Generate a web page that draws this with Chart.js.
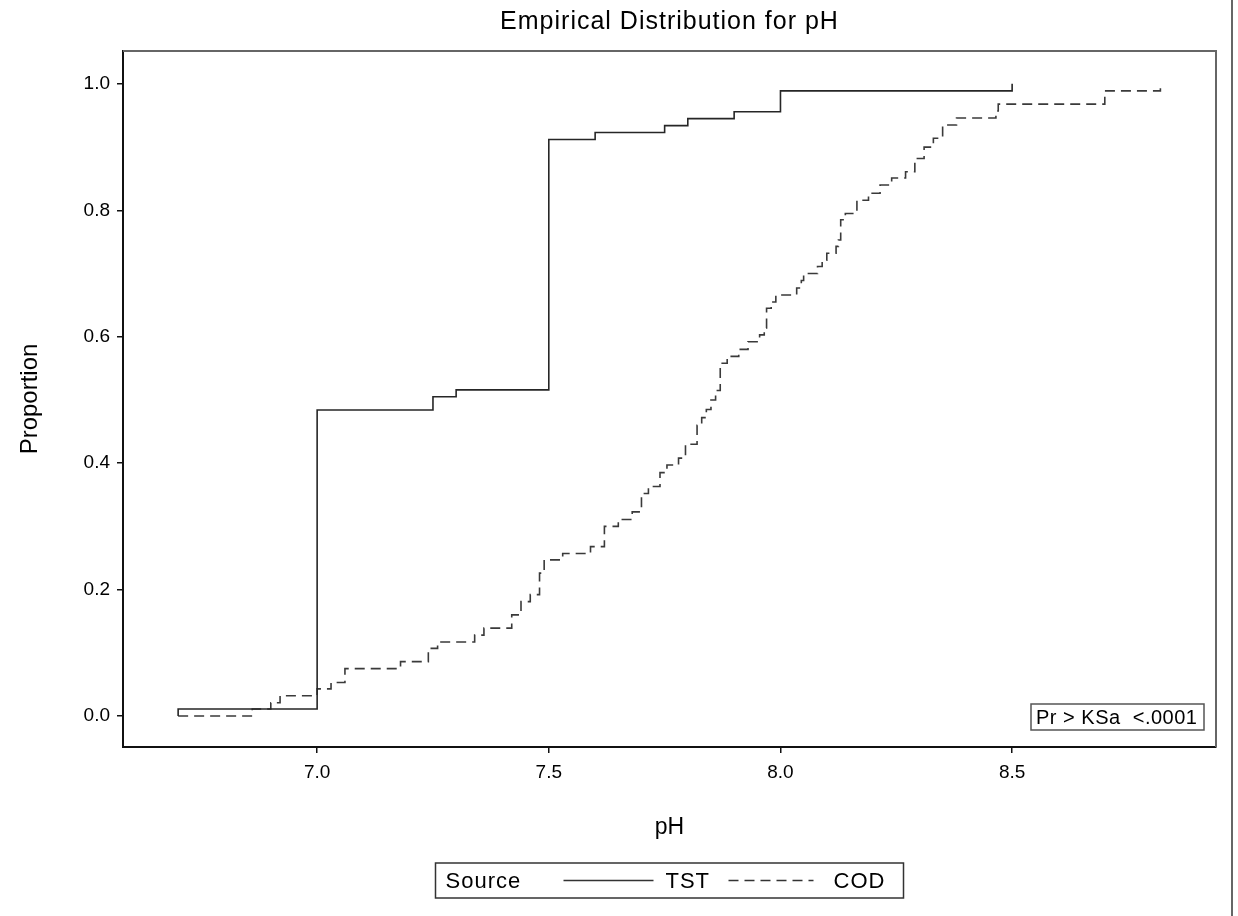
<!DOCTYPE html>
<html>
<head>
<meta charset="utf-8">
<title>Empirical Distribution for pH</title>
<script src="https://cdn.jsdelivr.net/npm/chart.js@4.4.1/dist/chart.umd.min.js"></script>
<style>
  html, body { margin: 0; padding: 0; background: #fff; }
  #wrap { width: 1238px; height: 916px; position: relative; }
</style>
</head>
<body>
<div id="wrap"><canvas id="ecdf" width="1238" height="916"></canvas></div>
<script>
// step points of the two empirical distribution functions (pH, cumulative proportion)
const tstPH   = [6.70, 6.70, 7.00, 7.25, 7.30, 7.50, 7.60, 7.75, 7.80, 7.90, 8.00, 8.50];
const tstProp = [0.000, 0.011, 0.484, 0.505, 0.516, 0.912, 0.923, 0.934, 0.945, 0.956, 0.989, 1.000];

const codPH = [6.70, 6.86, 6.90, 6.92, 7.00, 7.03, 7.06, 7.18, 7.24, 7.26, 7.34, 7.36,
  7.42, 7.44, 7.46, 7.48, 7.49, 7.53, 7.59, 7.62, 7.65, 7.68, 7.70, 7.715, 7.74, 7.755,
  7.78, 7.795, 7.82, 7.83, 7.84, 7.85, 7.86, 7.87, 7.885, 7.91, 7.93, 7.955, 7.965, 7.97,
  7.98, 7.99, 8.035, 8.045, 8.05, 8.08, 8.09, 8.10, 8.12, 8.125, 8.13, 8.14, 8.165, 8.19,
  8.215, 8.24, 8.27, 8.29, 8.31, 8.33, 8.35, 8.38, 8.465, 8.47, 8.70, 8.82];
const codProp = [0.000, 0.011, 0.021, 0.032, 0.043, 0.053, 0.075, 0.086, 0.107, 0.117, 0.128, 0.139,
  0.160, 0.181, 0.192, 0.226, 0.247, 0.257, 0.268, 0.300, 0.311, 0.323, 0.352, 0.363, 0.385, 0.397,
  0.408, 0.430, 0.460, 0.472, 0.485, 0.500, 0.515, 0.558, 0.569, 0.580, 0.592, 0.603, 0.614, 0.645,
  0.655, 0.666, 0.677, 0.689, 0.700, 0.711, 0.721, 0.732, 0.743, 0.753, 0.785, 0.795, 0.816, 0.827,
  0.840, 0.851, 0.861, 0.882, 0.900, 0.914, 0.935, 0.946, 0.957, 0.968, 0.989, 1.000];

const xTicks = [7.0, 7.5, 8.0, 8.5];
const yTicks = [0.0, 0.2, 0.4, 0.6, 0.8, 1.0];
const seriesNames = ['TST', 'COD'];
const legendTitle = 'Source';
const chartTitle = 'Empirical Distribution for pH';
const ksText = 'Pr > KSa  <.0001';

const FONT = '"Liberation Sans", Arial, Helvetica, sans-serif';
Chart.defaults.font.family = FONT;
Chart.defaults.color = '#000';

const toPoints = (xs, ys) => xs.map((x, i) => ({ x: x, y: ys[i] }));

// title, frame, legend box, KS inset and the page edge line
const extras = {
  id: 'extras',
  afterDraw(chart) {
    const ctx = chart.ctx;
    const a = chart.chartArea;
    const cx = (a.left + a.right) / 2;
    ctx.save();

    // title, centred over the plot area
    ctx.fillStyle = '#000';
    ctx.letterSpacing = '1px';
    ctx.font = '25px ' + FONT;
    ctx.textAlign = 'center';
    ctx.textBaseline = 'middle';
    ctx.fillText(chartTitle, cx, 22);

    // top and right sides of the plot frame
    ctx.strokeStyle = '#666';
    ctx.lineWidth = 2;
    ctx.beginPath();
    ctx.moveTo(a.left, a.top);
    ctx.lineTo(a.right, a.top);
    ctx.lineTo(a.right, a.bottom);
    ctx.stroke();

    // KS test inset
    ctx.lineWidth = 1.5;
    ctx.strokeStyle = '#555';
    const bw = 173, bh = 26;
    const bx = a.right - 12 - bw, by = a.bottom - 17 - bh;
    ctx.strokeRect(bx, by, bw, bh);
    ctx.letterSpacing = '0.5px';
    ctx.font = '20px ' + FONT;
    ctx.textAlign = 'left';
    ctx.fillText(ksText, bx + 5, by + bh / 2 + 1);

    // legend
    const lx = cx - 234, ly = 863, lw = 468, lh = 35;
    const mid = ly + lh / 2;
    ctx.strokeStyle = '#333';
    ctx.strokeRect(lx, ly, lw, lh);
    ctx.letterSpacing = '1px';
    ctx.font = '22px ' + FONT;
    ctx.fillText(legendTitle, lx + 10, mid + 1);
    ctx.lineWidth = 1.6;
    ctx.beginPath();
    ctx.moveTo(lx + 128, mid);
    ctx.lineTo(lx + 218, mid);
    ctx.stroke();
    ctx.fillText(seriesNames[0], lx + 230, mid + 1);
    ctx.setLineDash([10, 6]);
    ctx.beginPath();
    ctx.moveTo(lx + 293, mid);
    ctx.lineTo(lx + 378, mid);
    ctx.stroke();
    ctx.setLineDash([]);
    ctx.fillText(seriesNames[1], lx + 398, mid + 1);

    // right page edge
    ctx.fillStyle = '#666';
    ctx.fillRect(1231, 0, 2, chart.height);
    ctx.restore();
  }
};

new Chart(document.getElementById('ecdf'), {
  type: 'line',
  data: {
    datasets: [
      {
        label: seriesNames[0],
        data: toPoints(tstPH, tstProp),
        borderColor: '#262626',
        borderWidth: 1.6,
        stepped: 'before',
        pointRadius: 0,
        fill: false
      },
      {
        label: seriesNames[1],
        data: toPoints(codPH, codProp),
        borderColor: '#3a3a3a',
        borderWidth: 1.6,
        borderDash: [10, 6],
        stepped: 'before',
        pointRadius: 0,
        fill: false
      }
    ]
  },
  options: {
    responsive: false,
    animation: false,
    layout: { padding: { left: 0, right: 22, top: 51, bottom: 69 } },
    plugins: {
      legend: { display: false },
      tooltip: { enabled: false },
      title: { display: false }
    },
    scales: {
      x: {
        type: 'linear',
        min: 6.581,
        max: 8.94,
        afterBuildTicks: s => { s.ticks = xTicks.map(v => ({ value: v })); },
        afterFit: s => { s.height = 100; },
        ticks: {
          font: { size: 19 },
          padding: 8,
          callback: v => v.toFixed(1)
        },
        grid: { drawOnChartArea: false, tickLength: 6, color: '#111', lineWidth: 1.5 },
        border: { display: true, color: '#111', width: 2 },
        title: {
          display: true,
          text: 'pH',
          font: { size: 23 },
          padding: { top: 0, bottom: 6 }
        }
      },
      y: {
        min: -0.049,
        max: 1.052,
        afterBuildTicks: s => { s.ticks = yTicks.map(v => ({ value: v })); },
        afterFit: s => { s.width = 123; },
        ticks: {
          font: { size: 19 },
          padding: 7,
          callback: v => v.toFixed(1)
        },
        grid: { drawOnChartArea: false, tickLength: 6, color: '#111', lineWidth: 1.5 },
        border: { display: true, color: '#111', width: 2 },
        title: {
          display: true,
          text: 'Proportion',
          font: { size: 24 },
          padding: { top: 16, bottom: 0 }
        }
      }
    }
  },
  plugins: [extras]
});
</script>
</body>
</html>
